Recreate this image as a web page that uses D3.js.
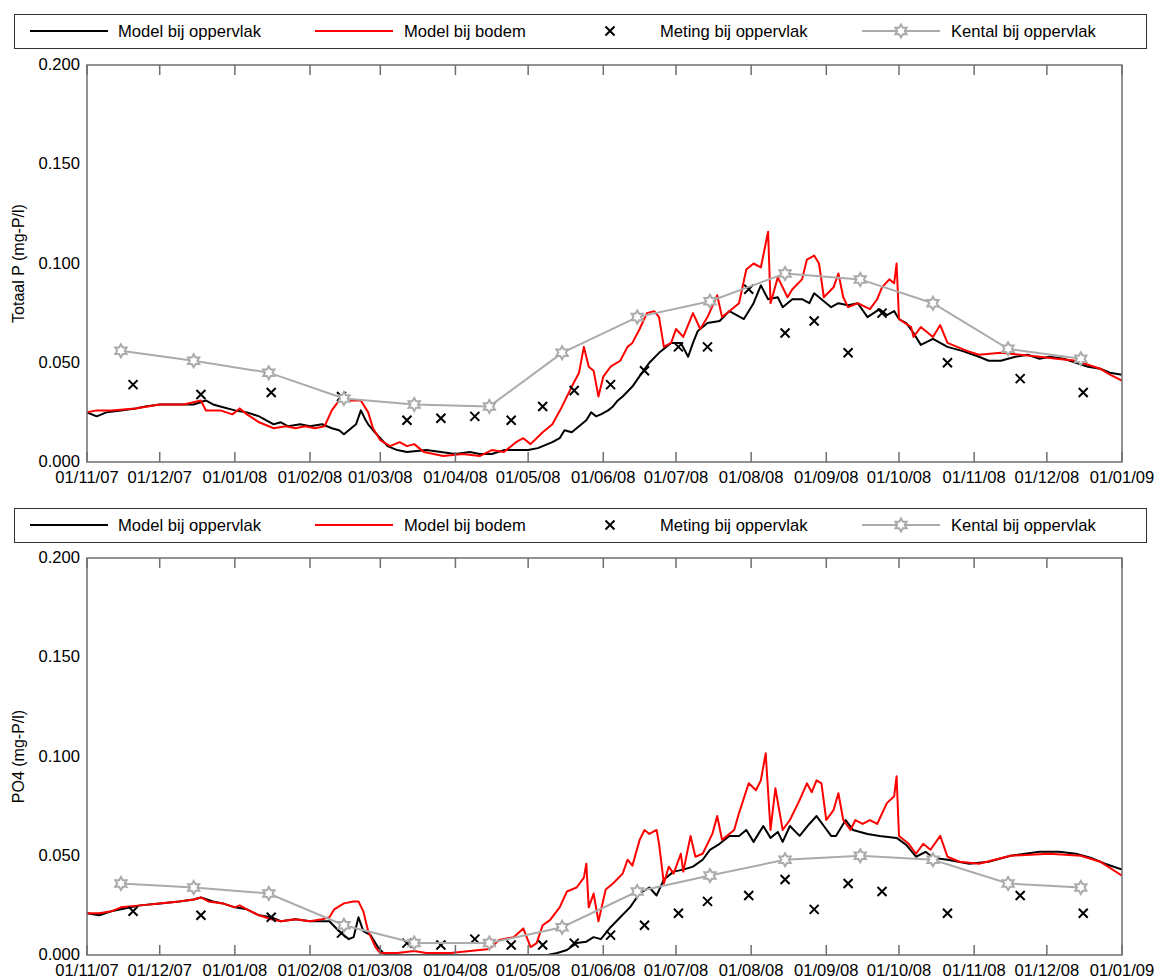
<!DOCTYPE html>
<html>
<head>
<meta charset="utf-8">
<script src="https://cdn.jsdelivr.net/npm/d3@7"></script>
<style>
  body { margin: 0; background: #fff; }
  svg { display: block; font-family: "Liberation Sans", Arial, sans-serif; }
</style>
</head>
<body>
<div id="chart"></div>
<script>
// Tijdas: dagen vanaf 01/11/07
const startDate = Date.UTC(2007, 10, 1);
const endDate = Date.UTC(2009, 0, 1);

const yTicks = [0, 0.05, 0.1, 0.15, 0.2];
const legendLabels = ["Model bij oppervlak", "Model bij bodem", "Meting bij oppervlak", "Kental bij oppervlak"];
const panelTitles = ["Totaal P (mg-P/l)", "PO4 (mg-P/l)"];

// Totaal P - model bij oppervlak [dag, waarde]
const tpSurface = [[0,0.025],[4,0.023],[8,0.025],[14,0.026],[20,0.027],[24,0.028],[30,0.029],[37,0.029],[44,0.029],[49,0.031],[52,0.029],[55,0.028],[61,0.026],[66,0.025],[71,0.023],[77,0.019],[80,0.020],[83,0.018],[88,0.019],[92,0.018],[97,0.019],[101,0.017],[104,0.016],[106,0.014],[109,0.017],[111,0.019],[113,0.026],[115,0.021],[116,0.019],[118,0.016],[121,0.012],[124,0.008],[128,0.006],[132,0.005],[140,0.006],[146,0.005],[152,0.004],[158,0.005],[162,0.004],[167,0.004],[172,0.006],[177,0.006],[182,0.006],[186,0.007],[190,0.009],[192,0.010],[195,0.012],[197,0.016],[200,0.015],[203,0.018],[206,0.021],[208,0.025],[210,0.023],[212,0.024],[215,0.026],[217,0.028],[219,0.031],[221,0.033],[225,0.038],[229,0.045],[232,0.050],[236,0.055],[241,0.060],[245,0.060],[248,0.053],[250,0.060],[252,0.066],[256,0.070],[261,0.071],[265,0.076],[268,0.074],[271,0.072],[275,0.080],[278,0.089],[281,0.082],[285,0.083],[287,0.078],[291,0.082],[295,0.082],[298,0.080],[300,0.085],[302,0.083],[307,0.078],[310,0.080],[314,0.079],[318,0.080],[322,0.073],[327,0.077],[330,0.074],[333,0.076],[335,0.072],[338,0.070],[341,0.065],[344,0.059],[349,0.062],[355,0.058],[361,0.056],[368,0.053],[372,0.051],[377,0.051],[383,0.053],[388,0.054],[393,0.052],[397,0.053],[403,0.052],[408,0.050],[413,0.048],[418,0.047],[422,0.045],[427,0.044]];

// Totaal P - model bij bodem
const tpBottom = [[0,0.025],[4,0.026],[10,0.026],[20,0.027],[30,0.029],[40,0.029],[47,0.031],[49,0.026],[55,0.026],[60,0.024],[63,0.027],[66,0.024],[71,0.020],[77,0.017],[82,0.018],[86,0.017],[90,0.018],[94,0.017],[98,0.018],[101,0.026],[104,0.031],[110,0.031],[113,0.031],[116,0.025],[118,0.017],[121,0.011],[125,0.008],[129,0.010],[132,0.008],[135,0.009],[139,0.005],[147,0.003],[155,0.004],[162,0.003],[167,0.006],[172,0.005],[177,0.010],[180,0.012],[183,0.009],[188,0.015],[192,0.019],[196,0.028],[200,0.038],[203,0.045],[205,0.058],[207,0.048],[209,0.046],[211,0.033],[213,0.043],[216,0.048],[220,0.051],[223,0.058],[225,0.060],[228,0.067],[231,0.075],[234,0.076],[236,0.073],[238,0.058],[241,0.060],[243,0.067],[246,0.063],[250,0.075],[253,0.067],[256,0.073],[260,0.084],[262,0.073],[267,0.078],[269,0.080],[272,0.097],[275,0.100],[278,0.098],[281,0.116],[282,0.080],[285,0.093],[289,0.083],[291,0.087],[295,0.092],[297,0.102],[300,0.104],[302,0.100],[304,0.083],[308,0.088],[310,0.095],[312,0.083],[314,0.078],[318,0.080],[323,0.077],[326,0.082],[328,0.088],[331,0.092],[333,0.090],[334,0.100],[335,0.072],[340,0.068],[341,0.063],[344,0.068],[347,0.065],[349,0.063],[352,0.069],[355,0.060],[359,0.058],[363,0.056],[368,0.054],[377,0.055],[385,0.054],[393,0.053],[400,0.052],[408,0.051],[413,0.049],[418,0.047],[422,0.044],[427,0.041]];

// PO4 - model bij oppervlak
const po4Surface = [[0,0.021],[5,0.020],[10,0.022],[14,0.023],[22,0.025],[30,0.026],[38,0.027],[44,0.028],[47,0.029],[52,0.027],[56,0.026],[61,0.024],[66,0.023],[71,0.020],[76,0.019],[80,0.017],[86,0.018],[92,0.017],[97,0.017],[100,0.017],[104,0.012],[106,0.010],[108,0.008],[110,0.009],[112,0.019],[114,0.012],[117,0.010],[120,0.004],[123,0.000],[190,0.000],[194,0.001],[198,0.0025],[202,0.006],[206,0.0067],[209,0.009],[212,0.008],[216,0.014],[220,0.019],[224,0.024],[228,0.031],[232,0.034],[235,0.030],[238,0.038],[242,0.042],[246,0.043],[250,0.0445],[254,0.048],[257,0.053],[261,0.056],[265,0.060],[269,0.060],[272,0.063],[275,0.057],[279,0.065],[282,0.059],[285,0.062],[287,0.057],[290,0.065],[294,0.060],[298,0.066],[301,0.070],[304,0.065],[307,0.060],[309,0.060],[313,0.068],[316,0.063],[322,0.061],[327,0.060],[334,0.059],[338,0.0555],[342,0.0495],[346,0.052],[349,0.049],[355,0.048],[364,0.046],[372,0.047],[381,0.050],[393,0.052],[401,0.052],[408,0.051],[414,0.049],[420,0.046],[427,0.043]];

// PO4 - model bij bodem
const po4Bottom = [[0,0.021],[5,0.021],[10,0.022],[14,0.024],[22,0.025],[30,0.026],[38,0.027],[44,0.028],[47,0.029],[50,0.027],[56,0.026],[61,0.024],[63,0.025],[66,0.023],[71,0.020],[76,0.018],[80,0.017],[86,0.018],[92,0.017],[97,0.018],[100,0.019],[102,0.023],[106,0.026],[110,0.027],[112,0.027],[114,0.022],[116,0.012],[119,0.004],[121,0.001],[128,0.001],[135,0.002],[140,0.001],[150,0.001],[158,0.002],[166,0.003],[170,0.0076],[176,0.009],[180,0.0134],[183,0.004],[185.5,0.006],[188,0.015],[191,0.0176],[195,0.024],[198,0.032],[202,0.034],[205,0.039],[206,0.046],[207,0.024],[209,0.031],[211,0.017],[214,0.033],[217,0.036],[221,0.041],[223,0.048],[225,0.045],[228,0.058],[230,0.063],[232,0.061],[235,0.063],[236,0.056],[238,0.036],[240,0.0445],[242,0.041],[245,0.051],[246,0.042],[249,0.060],[251,0.0495],[254,0.051],[258,0.061],[260,0.070],[262,0.058],[267,0.063],[269,0.0715],[273,0.0865],[276,0.083],[278,0.088],[280,0.1016],[282,0.063],[284,0.084],[287,0.063],[290,0.068],[294,0.078],[297,0.0865],[299,0.082],[301,0.088],[303,0.0865],[305,0.068],[308,0.073],[310,0.0815],[312,0.068],[315,0.063],[317,0.068],[320,0.066],[323,0.068],[326,0.066],[330,0.0765],[333,0.080],[334,0.090],[335,0.060],[339,0.056],[342,0.051],[345,0.056],[348,0.053],[352,0.060],[355,0.0495],[360,0.047],[368,0.046],[381,0.050],[397,0.051],[410,0.050],[418,0.047],[427,0.040]];

// Metingen bij oppervlak
const metingDates = ["2007-11-20","2007-12-18","2008-01-16","2008-02-14","2008-03-12","2008-03-26","2008-04-09","2008-04-24","2008-05-07","2008-05-20","2008-06-04","2008-06-18","2008-07-02","2008-07-14","2008-07-31","2008-08-15","2008-08-27","2008-09-10","2008-09-24","2008-10-21","2008-11-20","2008-12-16"];
const metingTP = [0.039,0.034,0.035,0.033,0.021,0.022,0.023,0.021,0.028,0.036,0.039,0.046,0.058,0.058,0.087,0.065,0.071,0.055,0.075,0.050,0.042,0.035];
const metingPO4 = [0.022,0.020,0.019,0.011,0.006,0.005,0.008,0.005,0.005,0.006,0.010,0.015,0.021,0.027,0.030,0.038,0.023,0.036,0.032,0.021,0.030,0.021];

// Kentallen (maandelijks, halverwege de maand)
const kentalDates = ["2007-11-15","2007-12-15","2008-01-15","2008-02-15","2008-03-15","2008-04-15","2008-05-15","2008-06-15","2008-07-15","2008-08-15","2008-09-15","2008-10-15","2008-11-15","2008-12-15"];
const kentalTP = [0.056,0.051,0.045,0.032,0.029,0.028,0.055,0.073,0.081,0.095,0.092,0.080,0.057,0.052];
const kentalPO4 = [0.036,0.034,0.031,0.015,0.006,0.006,0.014,0.032,0.040,0.048,0.050,0.048,0.036,0.034];

const width = 1160, height = 979;
const margin = { left: 87, right: 1122 };
const panels = [
  { legendTop: 14, top: 65, bottom: 462, title: panelTitles[0], surf: tpSurface, bot: tpBottom, meting: metingTP, kental: kentalTP },
  { legendTop: 508, top: 558, bottom: 955, title: panelTitles[1], surf: po4Surface, bot: po4Bottom, meting: metingPO4, kental: kentalPO4 }
];

const parse = d3.utcParse("%Y-%m-%d");
const dayToDate = d => new Date(startDate + d * 86400000);
const frameColor = "#6f6f6f";
const greyColor = "#ababab";
const fontSize = 16.6;

const svg = d3.select("#chart").append("svg")
  .attr("width", width)
  .attr("height", height);

const x = d3.scaleUtc()
  .domain([new Date(startDate), new Date(endDate)])
  .range([margin.left, margin.right]);

// zespuntige ster (kental-markering)
function starPath(r) {
  const pts = [];
  for (let i = 0; i < 12; i++) {
    const a = -Math.PI / 2 + i * Math.PI / 6;
    const rr = i % 2 === 0 ? r : r / Math.sqrt(3);
    pts.push([rr * Math.cos(a), rr * Math.sin(a)]);
  }
  return "M" + pts.map(p => p.join(",")).join("L") + "Z";
}
function crossPath(r) {
  return `M${-r},${-r}L${r},${r}M${-r},${r}L${r},${-r}`;
}

panels.forEach((p, pi) => {
  const g = svg.append("g");
  const y = d3.scaleLinear().domain([0, 0.2]).range([p.bottom, p.top]);

  // legenda
  const ly = p.legendTop + 17;
  g.append("rect")
    .attr("x", 14.5).attr("y", p.legendTop + 0.5)
    .attr("width", 1132).attr("height", 34)
    .attr("fill", "#fff").attr("stroke", "#333").attr("stroke-width", 1);
  g.append("line").attr("x1", 30).attr("x2", 108).attr("y1", ly).attr("y2", ly)
    .attr("stroke", "#000").attr("stroke-width", 2);
  g.append("line").attr("x1", 315).attr("x2", 393).attr("y1", ly).attr("y2", ly)
    .attr("stroke", "#ff0000").attr("stroke-width", 2);
  g.append("path").attr("d", crossPath(4.5)).attr("transform", `translate(610,${ly})`)
    .attr("stroke", "#000").attr("stroke-width", 2).attr("fill", "none");
  g.append("line").attr("x1", 862).attr("x2", 940).attr("y1", ly).attr("y2", ly)
    .attr("stroke", greyColor).attr("stroke-width", 2);
  g.append("path").attr("d", starPath(6.5)).attr("transform", `translate(901,${ly})`)
    .attr("stroke", greyColor).attr("stroke-width", 2).attr("fill", "#fff");
  [118, 404, 660, 951].forEach((lx, i) => {
    g.append("text").attr("x", lx).attr("y", ly + 6)
      .attr("font-size", fontSize).attr("fill", "#000")
      .text(legendLabels[i]);
  });

  // clip
  const clipId = "clip" + pi;
  svg.append("clipPath").attr("id", clipId).append("rect")
    .attr("x", margin.left).attr("y", p.top)
    .attr("width", margin.right - margin.left).attr("height", p.bottom - p.top);

  const line = d3.line().x(d => x(dayToDate(d[0]))).y(d => y(d[1]));
  const plot = g.append("g").attr("clip-path", `url(#${clipId})`);

  plot.append("path").datum(p.surf).attr("d", line)
    .attr("fill", "none").attr("stroke", "#000").attr("stroke-width", 2)
    .attr("stroke-linejoin", "round");
  plot.append("path").datum(p.bot).attr("d", line)
    .attr("fill", "none").attr("stroke", "#ff0000").attr("stroke-width", 2)
    .attr("stroke-linejoin", "round");

  // metingen
  g.selectAll(".meting" + pi)
    .data(metingDates.map((d, i) => [parse(d), p.meting[i]]))
    .enter().append("path")
    .attr("d", crossPath(4.5))
    .attr("transform", d => `translate(${x(d[0])},${y(d[1])})`)
    .attr("stroke", "#000").attr("stroke-width", 2).attr("fill", "none");

  // kentallen
  const kData = kentalDates.map((d, i) => [parse(d), p.kental[i]]);
  g.append("path").datum(kData)
    .attr("d", d3.line().x(d => x(d[0])).y(d => y(d[1])))
    .attr("fill", "none").attr("stroke", greyColor).attr("stroke-width", 2);
  g.selectAll(".kental" + pi)
    .data(kData).enter().append("path")
    .attr("d", starPath(6.5))
    .attr("transform", d => `translate(${x(d[0])},${y(d[1])})`)
    .attr("stroke", greyColor).attr("stroke-width", 2).attr("fill", "#fff");

  // kader
  g.append("rect")
    .attr("x", margin.left).attr("y", p.top)
    .attr("width", margin.right - margin.left).attr("height", p.bottom - p.top)
    .attr("fill", "none").attr("stroke", frameColor).attr("stroke-width", 1.5);

  // maand-ticks onder en boven (naar binnen)
  const months = d3.utcMonth.range(new Date(startDate), new Date(endDate + 1));
  months.forEach(m => {
    const xm = x(m);
    g.append("line").attr("x1", xm).attr("x2", xm)
      .attr("y1", p.bottom).attr("y2", p.bottom - 10)
      .attr("stroke", frameColor).attr("stroke-width", 1.5);
    g.append("line").attr("x1", xm).attr("x2", xm)
      .attr("y1", p.top).attr("y2", p.top + 10)
      .attr("stroke", frameColor).attr("stroke-width", 1.5);
    g.append("text").attr("x", xm).attr("y", p.bottom + 21)
      .attr("text-anchor", "middle").attr("font-size", fontSize)
      .text(d3.utcFormat("%d/%m/%y")(m));
  });

  // y-labels
  yTicks.forEach(t => {
    g.append("text").attr("x", 80).attr("y", y(t) + 5)
      .attr("text-anchor", "end").attr("font-size", fontSize)
      .text(d3.format(".3f")(t));
  });

  // as-titel
  g.append("text")
    .attr("transform", `translate(24,${(p.top + p.bottom) / 2}) rotate(-90)`)
    .attr("text-anchor", "middle").attr("font-size", 16)
    .text(p.title);
});
</script>
</body>
</html>
